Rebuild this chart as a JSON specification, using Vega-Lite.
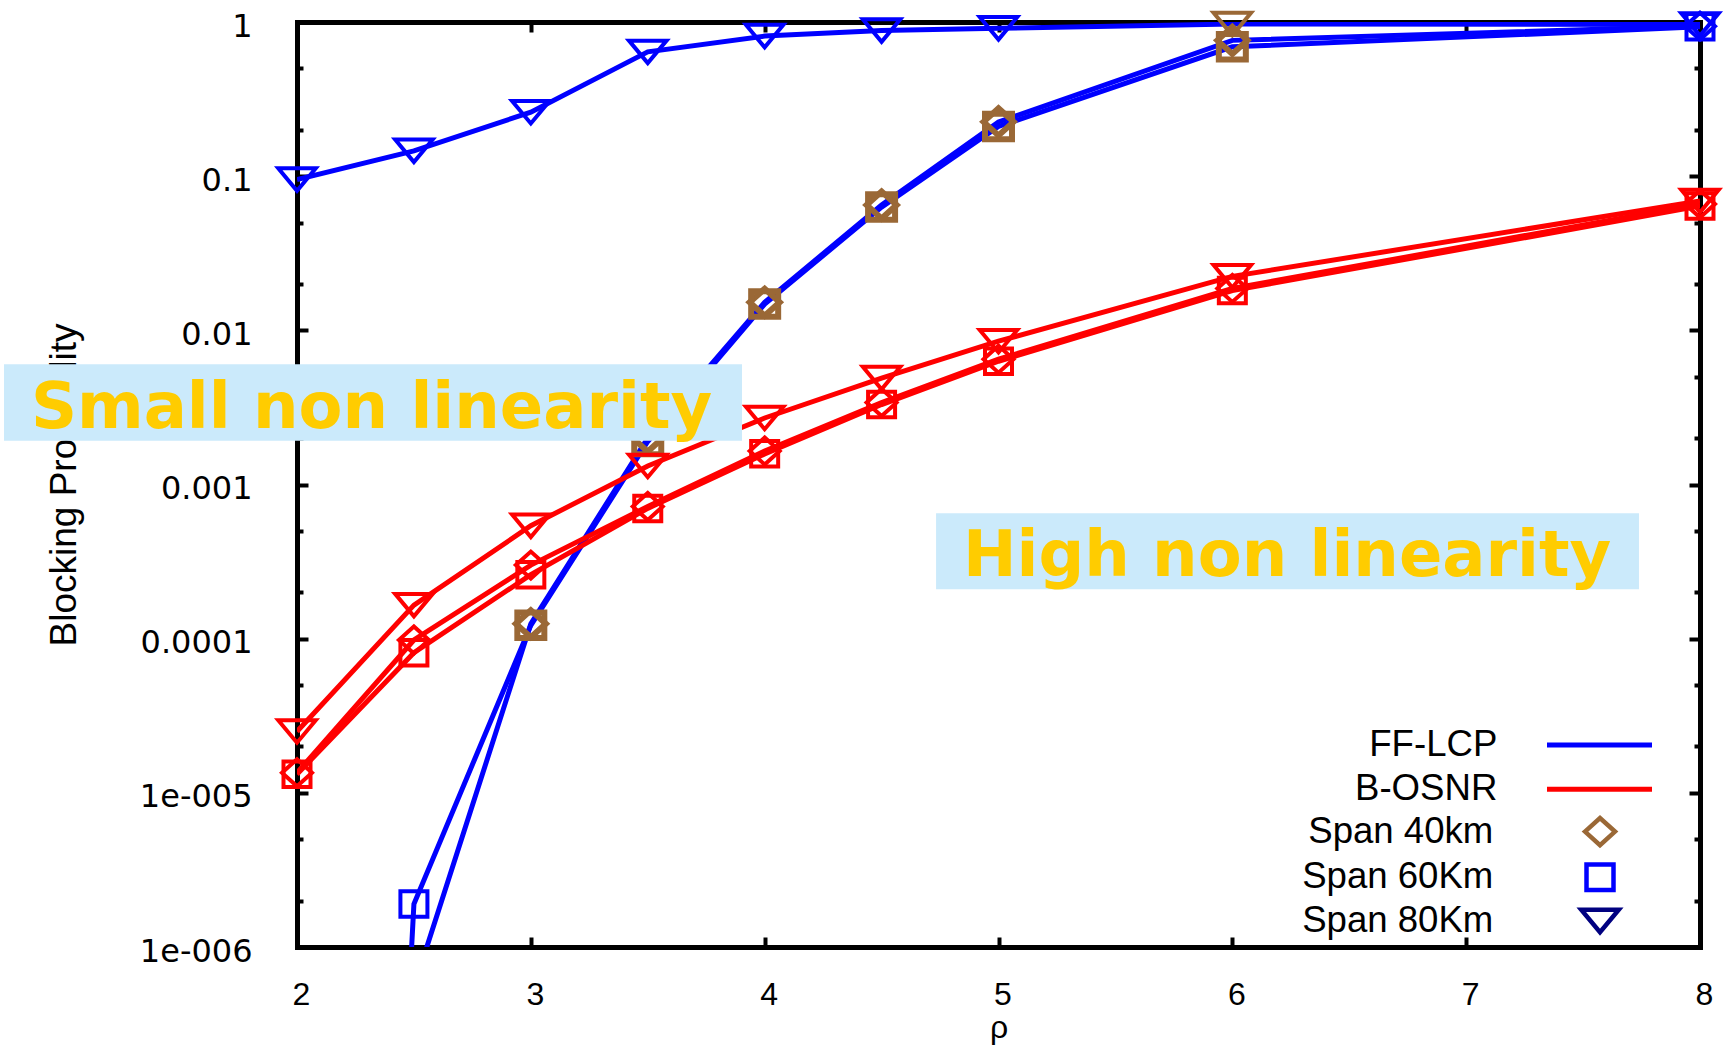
{
  "$schema": "https://vega.github.io/schema/vega-lite/v6.json",
  "width": 1403,
  "height": 925,
  "autosize": {"type": "none"},
  "padding": {"left": 297, "top": 22, "right": 27, "bottom": 105},
  "background": "white",
  "config": {"view": {"stroke": null}, "font": "Liberation Sans"},
  "datasets": {
    "curves": [
      {"method": "FF-LCP", "span": "80Km", "rho": 2, "p": 0.095},
      {"method": "FF-LCP", "span": "80Km", "rho": 2.5, "p": 0.146},
      {"method": "FF-LCP", "span": "80Km", "rho": 3, "p": 0.26},
      {"method": "FF-LCP", "span": "80Km", "rho": 3.5, "p": 0.64},
      {"method": "FF-LCP", "span": "80Km", "rho": 4, "p": 0.81},
      {"method": "FF-LCP", "span": "80Km", "rho": 4.5, "p": 0.88},
      {"method": "FF-LCP", "span": "80Km", "rho": 5, "p": 0.91},
      {"method": "FF-LCP", "span": "80Km", "rho": 6, "p": 0.97},
      {"method": "FF-LCP", "span": "80Km", "rho": 8, "p": 0.965},
      {"method": "FF-LCP", "span": "40km", "rho": 2.5, "p": 5.5e-7},
      {"method": "FF-LCP", "span": "40km", "rho": 3, "p": 0.000125},
      {"method": "FF-LCP", "span": "40km", "rho": 3.5, "p": 0.002},
      {"method": "FF-LCP", "span": "40km", "rho": 4, "p": 0.0152},
      {"method": "FF-LCP", "span": "40km", "rho": 4.5, "p": 0.065},
      {"method": "FF-LCP", "span": "40km", "rho": 5, "p": 0.225},
      {"method": "FF-LCP", "span": "40km", "rho": 6, "p": 0.76},
      {"method": "FF-LCP", "span": "40km", "rho": 8, "p": 0.94},
      {"method": "FF-LCP", "span": "60Km", "rho": 2, "p": 1e-20},
      {"method": "FF-LCP", "span": "60Km", "rho": 2.5, "p": 0.0000019},
      {"method": "FF-LCP", "span": "60Km", "rho": 3, "p": 0.000122},
      {"method": "FF-LCP", "span": "60Km", "rho": 3.5, "p": 0.0019},
      {"method": "FF-LCP", "span": "60Km", "rho": 4, "p": 0.0148},
      {"method": "FF-LCP", "span": "60Km", "rho": 4.5, "p": 0.063},
      {"method": "FF-LCP", "span": "60Km", "rho": 5, "p": 0.21},
      {"method": "FF-LCP", "span": "60Km", "rho": 6, "p": 0.69},
      {"method": "FF-LCP", "span": "60Km", "rho": 8, "p": 0.93},
      {"method": "B-OSNR", "span": "40km", "rho": 2, "p": 0.0000135},
      {"method": "B-OSNR", "span": "40km", "rho": 2.5, "p": 0.000098},
      {"method": "B-OSNR", "span": "40km", "rho": 3, "p": 0.0003},
      {"method": "B-OSNR", "span": "40km", "rho": 3.5, "p": 0.00072},
      {"method": "B-OSNR", "span": "40km", "rho": 4, "p": 0.00165},
      {"method": "B-OSNR", "span": "40km", "rho": 4.5, "p": 0.0034},
      {"method": "B-OSNR", "span": "40km", "rho": 5, "p": 0.0065},
      {"method": "B-OSNR", "span": "40km", "rho": 6, "p": 0.0187},
      {"method": "B-OSNR", "span": "40km", "rho": 8, "p": 0.066},
      {"method": "B-OSNR", "span": "60Km", "rho": 2, "p": 0.0000132},
      {"method": "B-OSNR", "span": "60Km", "rho": 2.5, "p": 0.000081},
      {"method": "B-OSNR", "span": "60Km", "rho": 3, "p": 0.00026},
      {"method": "B-OSNR", "span": "60Km", "rho": 3.5, "p": 0.0007},
      {"method": "B-OSNR", "span": "60Km", "rho": 4, "p": 0.00158},
      {"method": "B-OSNR", "span": "60Km", "rho": 4.5, "p": 0.0033},
      {"method": "B-OSNR", "span": "60Km", "rho": 5, "p": 0.0063},
      {"method": "B-OSNR", "span": "60Km", "rho": 6, "p": 0.0181},
      {"method": "B-OSNR", "span": "60Km", "rho": 8, "p": 0.064},
      {"method": "B-OSNR", "span": "80Km", "rho": 2, "p": 0.000025},
      {"method": "B-OSNR", "span": "80Km", "rho": 2.5, "p": 0.000165},
      {"method": "B-OSNR", "span": "80Km", "rho": 3, "p": 0.00054},
      {"method": "B-OSNR", "span": "80Km", "rho": 3.5, "p": 0.00132},
      {"method": "B-OSNR", "span": "80Km", "rho": 4, "p": 0.0027},
      {"method": "B-OSNR", "span": "80Km", "rho": 4.5, "p": 0.0049},
      {"method": "B-OSNR", "span": "80Km", "rho": 5, "p": 0.0085},
      {"method": "B-OSNR", "span": "80Km", "rho": 6, "p": 0.0224},
      {"method": "B-OSNR", "span": "80Km", "rho": 8, "p": 0.069}
    ],
    "notes": [
      {"label": "Small non linearity", "x0": 0.747, "x1": 3.903, "ytop": 0.00602, "ybot": 0.00192, "tx": 0.862, "ty": 0.00232},
      {"label": "High non linearity", "x0": 4.733, "x1": 7.739, "ytop": 0.00065, "ybot": 0.000209, "tx": 4.848, "ty": 0.000255}
    ]
  },
  "resolve": {"axis": {"x": "independent", "y": "independent"}},
  "layer": [
    {
      "mark": {"type": "rule", "color": "black", "strokeWidth": 5, "strokeDash": [5.5, 6.5]},
      "encoding": {
        "y": {"datum": 0.01, "type": "quantitative", "scale": {"type": "log", "domain": [0.000001, 1], "nice": false}, "axis": null}
      }
    },
    {
      "data": {"name": "curves"},
      "mark": {"type": "line", "strokeWidth": 5, "clip": true},
      "encoding": {
        "x": {
          "field": "rho", "type": "quantitative",
          "scale": {"domain": [2, 8], "nice": false, "zero": false},
          "axis": {
            "orient": "bottom", "values": [2, 3, 4, 5, 6, 7, 8], "format": "d", "grid": false,
            "domain": true, "domainColor": "black", "domainWidth": 5, "domainCap": "square",
            "ticks": true, "tickSize": -10, "tickWidth": 4, "tickColor": "black",
            "labelFont": "Liberation Sans", "labelFontSize": 32, "labelColor": "black", "labelPadding": 42.6, "labelOffset": 4,
            "labelFlush": false, "labelOverlap": false,
            "title": "ρ", "titleFont": "Liberation Sans", "titleFontSize": 32, "titleFontWeight": "normal", "titleColor": "black",
            "titleX": 701.5, "titleY": 90.5, "titleBaseline": "alphabetic", "titleAlign": "center", "titleAngle": 0
          }
        },
        "y": {
          "field": "p", "type": "quantitative",
          "scale": {"type": "log", "domain": [0.000001, 1], "nice": false},
          "axis": {
            "orient": "left",
            "values": [0.000001, 0.000002, 0.000005, 0.00001, 0.00002, 0.00005, 0.0001, 0.0002, 0.0005, 0.001, 0.002, 0.005, 0.01, 0.02, 0.05, 0.1, 0.2, 0.5, 1],
            "labelExpr": "(datum.value / pow(10, floor(log(datum.value) / LN10 + 0.000001))) > 1.5 ? '' : (datum.value < 0.000002 ? '1e-006' : datum.value < 0.00002 ? '1e-005' : datum.value < 0.0002 ? '0.0001' : datum.value < 0.002 ? '0.001' : datum.value < 0.02 ? '0.01' : datum.value < 0.2 ? '0.1' : '1')",
            "grid": false,
            "domain": true, "domainColor": "black", "domainWidth": 5, "domainCap": "square",
            "ticks": true,
            "tickSize": {"condition": {"test": "abs(log(datum.value) / LN10 - round(log(datum.value) / LN10)) < 0.01", "value": -11}, "value": -6},
            "tickWidth": 4, "tickColor": "black",
            "labelFont": "DejaVu Sans", "labelFontSize": 32, "labelColor": "black", "labelPadding": 56, "labelOffset": 4,
            "labelFlush": false, "labelOverlap": false,
            "title": "Blocking Probability", "titleFont": "Liberation Sans", "titleFontSize": 37, "titleFontWeight": "normal", "titleColor": "black",
            "titleX": -222, "titleY": 462.5, "titleAngle": 270, "titleAlign": "center", "titleBaseline": "alphabetic"
          }
        },
        "color": {
          "field": "method", "type": "nominal",
          "scale": {"domain": ["FF-LCP", "B-OSNR"], "range": ["#0000ff", "#ff0000"]},
          "legend": {
            "orient": "none", "legendX": 1284.2, "legendY": 704.6, "title": null, "padding": 0,
            "symbolType": "M-5,0H5", "symbolSize": 441, "symbolStrokeWidth": 5, "symbolOffset": 0,
            "labelFont": "Liberation Sans", "labelFontSize": 36.6, "labelColor": "black", "labelLimit": 400,
            "labelAlign": "right", "labelOffset": -120.5, "rowPadding": 7.4
          }
        },
        "detail": {"field": "span", "type": "nominal"}
      }
    },
    {
      "data": {"name": "curves"},
      "transform": [{"filter": "datum.p >= 0.000001"}],
      "mark": {"type": "point", "filled": false, "size": 900, "opacity": 1, "clip": false},
      "encoding": {
        "x": {"field": "rho", "type": "quantitative", "scale": {"domain": [2, 8], "nice": false, "zero": false}, "axis": null},
        "y": {"field": "p", "type": "quantitative", "scale": {"type": "log", "domain": [0.000001, 1], "nice": false}, "axis": null},
        "shape": {
          "field": "span", "type": "nominal",
          "scale": {"domain": ["40km", "60Km", "80Km"], "range": ["M-1,0L0,-0.9L1,0L0,0.9Z", "M-0.9,-0.85H0.9V0.85H-0.9Z", "M-1.25,-0.75H1.25L0,0.75Z"]},
          "legend": {
            "orient": "none", "legendX": 1284.7, "legendY": 791.3, "title": null, "padding": 0,
            "symbolSize": 900, "symbolStrokeWidth": 4.5, "symbolOffset": 0, "symbolFillColor": "transparent",
            "labelExpr": "'Span ' + datum.label",
            "labelFont": "Liberation Sans", "labelFontSize": 36.6, "labelColor": "black", "labelLimit": 400,
            "labelAlign": "right", "labelOffset": -125, "rowPadding": 0.7
          }
        },
        "stroke": {
          "field": "span", "type": "nominal",
          "scale": {"domain": ["40km", "60Km", "80Km"], "range": ["#9a6836", "#0000ff", "#000080"]},
          "legend": {
            "orient": "none", "legendX": 1284.7, "legendY": 791.3, "title": null, "padding": 0,
            "symbolSize": 900, "symbolStrokeWidth": 4.5, "symbolOffset": 0, "symbolFillColor": "transparent",
            "labelExpr": "'Span ' + datum.label",
            "labelFont": "Liberation Sans", "labelFontSize": 36.6, "labelColor": "black", "labelLimit": 400,
            "labelAlign": "right", "labelOffset": -125, "rowPadding": 0.7
          },
          "condition": [
            {"test": "datum.method === 'B-OSNR'", "value": "#ff0000"},
            {"test": "datum.span === '80Km' && datum.rho !== 6", "value": "#0000ff"},
            {"test": "datum.rho < 2.7 || datum.rho > 7", "value": "#0000ff"},
            {"test": "datum.method === 'FF-LCP'", "value": "#9a6836"}
          ]
        },
        "strokeWidth": {
          "condition": {"test": "datum.method === 'FF-LCP' && datum.span !== '80Km' && datum.rho > 2.7 && datum.rho < 7", "value": 6},
          "value": 4
        }
      }
    },
    {
      "data": {"name": "notes"},
      "mark": {"type": "rect", "fill": "#cbeafb", "clip": false},
      "encoding": {
        "x": {
          "field": "x0", "type": "quantitative", "scale": {"domain": [2, 8], "nice": false, "zero": false},
          "axis": {
            "orient": "top", "values": [2, 3, 4, 5, 6, 7, 8], "labels": false, "grid": false, "title": null,
            "domain": true, "domainColor": "black", "domainWidth": 5, "domainCap": "square",
            "ticks": true, "tickSize": -10, "tickWidth": 4, "tickColor": "black"
          }
        },
        "x2": {"field": "x1"},
        "y": {
          "field": "ytop", "type": "quantitative", "scale": {"type": "log", "domain": [0.000001, 1], "nice": false},
          "axis": {
            "orient": "right",
            "values": [0.000001, 0.000002, 0.000005, 0.00001, 0.00002, 0.00005, 0.0001, 0.0002, 0.0005, 0.001, 0.002, 0.005, 0.01, 0.02, 0.05, 0.1, 0.2, 0.5, 1],
            "labels": false, "grid": false, "title": null,
            "domain": true, "domainColor": "black", "domainWidth": 5, "domainCap": "square",
            "ticks": true,
            "tickSize": {"condition": {"test": "abs(log(datum.value) / LN10 - round(log(datum.value) / LN10)) < 0.01", "value": -11}, "value": -6},
            "tickWidth": 4, "tickColor": "black"
          }
        },
        "y2": {"field": "ybot"}
      }
    },
    {
      "data": {"name": "notes"},
      "mark": {"type": "text", "font": "DejaVu Sans", "fontWeight": "bold", "fontSize": 64, "color": "#ffcc00", "align": "left", "baseline": "alphabetic", "clip": false},
      "encoding": {
        "x": {"field": "tx", "type": "quantitative", "scale": {"domain": [2, 8], "nice": false, "zero": false}, "axis": null},
        "y": {"field": "ty", "type": "quantitative", "scale": {"type": "log", "domain": [0.000001, 1], "nice": false}, "axis": null},
        "text": {"field": "label"}
      }
    }
  ]
}
